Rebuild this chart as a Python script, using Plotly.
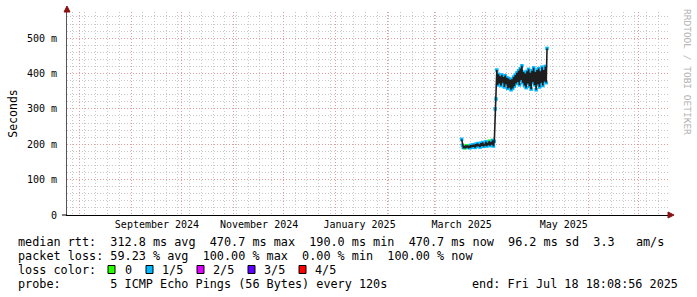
import pandas as pd
import plotly.graph_objects as go

# ---------------- data ----------------
x_start = "2024-07-24 18:00"
x_end = "2025-07-18 18:08:56"

month_starts = ["2024-08-01", "2024-09-01", "2024-10-01", "2024-11-01", "2024-12-01",
                "2025-01-01", "2025-02-01", "2025-03-01", "2025-04-01", "2025-05-01",
                "2025-06-01", "2025-07-01"]
label_dates = ["2024-09-16 12:00", "2024-11-16 12:00", "2025-01-15 12:00",
               "2025-03-17 12:00", "2025-05-17 12:00"]
label_text = ["September 2024", "November 2024", "January 2025", "March 2025", "May 2025"]

y_ticks = [0, 0.1, 0.2, 0.3, 0.4, 0.5]
y_tick_text = ["0", "100 m", "200 m", "300 m", "400 m", "500 m"]

sample_start = "2025-03-17 12:00"
# median rtt in milliseconds, one sample every 12 hours
rtt_ms = [
    214, 197, 191, 193, 190, 195, 192, 196, 191, 194,
    190, 197, 192, 198, 193, 199, 191, 200, 194, 202,
    195, 199, 192, 203, 196, 205, 194, 201, 197, 207,
    195, 204, 198, 209, 196, 206, 199, 211, 195, 208,
    300, 328,
    410, 368, 398, 372, 392, 366, 396, 374, 390, 362,
    394, 370, 388, 358, 386, 360, 382, 354, 384, 358,
    390, 364, 396, 372, 402, 376, 408, 368, 414, 382,
    422, 374, 404, 366, 400, 360, 406, 372, 412, 364,
    402, 356, 408, 376, 416, 368, 404, 354, 410, 370,
    414, 362, 406, 374, 418, 366, 410, 378, 420, 374,
    471,
]
# packet loss in fifths per sample
loss_fifths = [
    1, 1, 1, 0, 0, 0, 0, 0, 1, 1,
    1, 1, 1, 1, 1, 1, 1, 1, 1, 1,
    1, 1, 1, 1, 1, 1, 1, 1, 1, 1,
    1, 1, 0, 0, 1, 1, 1, 1, 1, 1,
    1, 1,
] + [1] * 61

loss_colors = ["#26ff00", "#00b8ff", "#dd00ff", "#5e00ff", "#ff0000"]
loss_labels = ["0", "1/5", "2/5", "3/5", "4/5"]

legend_line1 = "median rtt:  312.8 ms avg  470.7 ms max  190.0 ms min  470.7 ms now  96.2 ms sd  3.3   am/s"
legend_line2 = "packet loss: 59.23 % avg  100.00 % max  0.00 % min  100.00 % now"
legend_line3 = "loss color:"
legend_line4 = "probe:       5 ICMP Echo Pings (56 Bytes) every 120s"
legend_end = "end: Fri Jul 18 18:08:56 2025"

# ---------------- figure ----------------
W, H = 697, 297
L, R, T, B = 67, 29, 12, 82
PW, PH = W - L - R, H - T - B


def px(xp):
    return (xp - L) / PW


def py(yp):
    return (H - B - yp) / PH


times = pd.date_range(sample_start, periods=len(rtt_ms), freq="12h")
rtt_s = [v / 1000.0 for v in rtt_ms]

fig = go.Figure()
for lv in range(5):
    xs = [t for t, l in zip(times, loss_fifths) if l == lv]
    ys = [v for v, l in zip(rtt_s, loss_fifths) if l == lv]
    if xs:
        fig.add_trace(go.Scatter(x=xs, y=ys, mode="markers",
                                 marker=dict(color=loss_colors[lv], size=3.5, symbol="square",
                                             line=dict(width=0)),
                                 hoverinfo="skip", showlegend=False))
fig.add_trace(go.Scatter(x=times, y=rtt_s, mode="lines",
                         line=dict(color="#1e1e1e", width=1.6),
                         hoverinfo="skip", showlegend=False))
# invisible helper trace for label axis
fig.add_trace(go.Scatter(x=label_dates, y=[0] * len(label_dates), xaxis="x2", mode="markers",
                         marker=dict(opacity=0), hoverinfo="skip", showlegend=False))

mono = "DejaVu Sans Mono"
dot = "1px,2px"
major_c = "#e29c9c"
minor_c = "#c8c8c8"

fig.update_layout(
    width=W, height=H,
    margin=dict(l=L, r=R, t=T, b=B, pad=0),
    paper_bgcolor="white", plot_bgcolor="white",
    font=dict(family=mono, size=10, color="#000"),
    xaxis=dict(
        type="date", range=[x_start, x_end], automargin=False,
        tickvals=month_starts, ticktext=[""] * len(month_starts),
        showgrid=True, gridcolor=major_c, griddash=dot, gridwidth=1,
        minor=dict(tick0="2024-07-28", dtick=7 * 86400000, showgrid=True,
                   gridcolor=minor_c, griddash=dot, gridwidth=1),
        showline=True, linecolor="#000", linewidth=1,
        ticks="", zeroline=False, fixedrange=True,
    ),
    xaxis2=dict(
        type="date", range=[x_start, x_end], overlaying="x", anchor="y", side="bottom",
        automargin=False,
        tickvals=label_dates, ticktext=label_text, showgrid=False, showline=False,
        ticks="", tickfont=dict(family=mono, size=10, color="#000"), ticklabelstandoff=2,
        zeroline=False,
    ),
    yaxis=dict(
        range=[0, 0.574], tickvals=y_ticks, ticktext=y_tick_text, automargin=False,
        showgrid=True, gridcolor=major_c, griddash=dot, gridwidth=1,
        minor=dict(dtick=0.02, tick0=0, showgrid=True, gridcolor=minor_c, griddash=dot, gridwidth=1),
        showline=True, linecolor="#555", linewidth=1,
        ticks="", ticklabelstandoff=7, zeroline=False,
        tickfont=dict(family=mono, size=10, color="#000"),
        title=dict(text="Seconds", font=dict(family=mono, size=11.5, color="#000"), standoff=6),
    ),
    showlegend=False,
)

shapes = []
# axis arrows
shapes.append(dict(type="path", xref="paper", yref="paper",
                   path=f"M {px(64)} {py(12)} L {px(70)} {py(12)} L {px(67)} {py(6)} Z",
                   fillcolor="#8b1010", line=dict(color="#8b1010", width=1)))
shapes.append(dict(type="path", xref="paper", yref="paper",
                   path=f"M {px(668)} {py(212)} L {px(668)} {py(218)} L {px(674)} {py(215)} Z",
                   fillcolor="#8b1010", line=dict(color="#8b1010", width=1)))
# x axis stub to the left of y axis
shapes.append(dict(type="line", xref="paper", yref="paper",
                   x0=px(62), x1=px(67), y0=0, y1=0, line=dict(color="#000", width=1)))

annotations = []
lines_y = [241.5, 255.5, 269.5, 283.5]
legend_font = dict(family=mono, size=11.8, color="#000")
for txt, yy in [(legend_line1, lines_y[0]), (legend_line2, lines_y[1]),
                (legend_line3, lines_y[2]), (legend_line4, lines_y[3])]:
    annotations.append(dict(text=txt.replace(" ", "\u00a0"), x=px(16), y=py(yy),
                            xref="paper", yref="paper", xanchor="left", yanchor="middle",
                            showarrow=False, font=legend_font))
annotations.append(dict(text=legend_end.replace(" ", "\u00a0"), x=px(680), y=py(lines_y[3]),
                        xref="paper", yref="paper", xanchor="right", yanchor="middle",
                        showarrow=False, font=legend_font))

box_left = [108, 146, 197, 248, 299]
label_left = [123, 160, 211, 262, 313]
for i in range(5):
    shapes.append(dict(type="rect", xref="paper", yref="paper",
                       x0=px(box_left[i]), x1=px(box_left[i] + 7),
                       y0=py(265.5), y1=py(273.5),
                       fillcolor=loss_colors[i], line=dict(color="#000", width=1)))
    annotations.append(dict(text=loss_labels[i], x=px(label_left[i]), y=py(lines_y[2]),
                            xref="paper", yref="paper", xanchor="left", yanchor="middle",
                            showarrow=False, font=legend_font))

# watermark
annotations.append(dict(text="RRDTOOL / TOBI OETIKER", x=px(688), y=py(72),
                        xref="paper", yref="paper", xanchor="center", yanchor="middle",
                        textangle=90, showarrow=False,
                        font=dict(family=mono, size=9.5, color="#b0b0b0")))

fig.update_layout(shapes=shapes, annotations=annotations)

fig.write_html("out.html", config={"displayModeBar": False})
